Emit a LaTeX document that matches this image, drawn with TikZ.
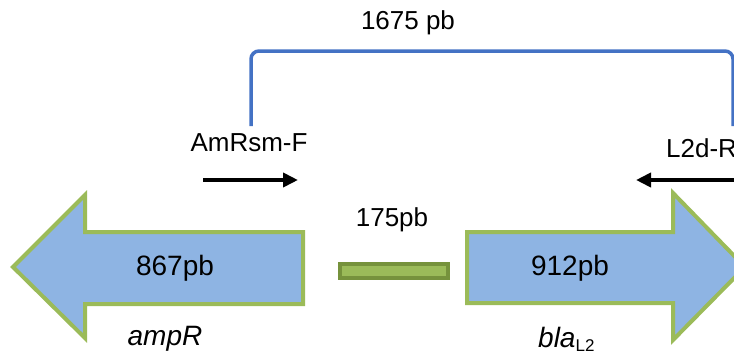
\documentclass[tikz,border=0pt]{standalone}
\usepackage{fontspec}
\setmainfont{Liberation Sans}
\usetikzlibrary{arrows.meta}
\definecolor{geneblue}{HTML}{8EB4E3}
\definecolor{genegreen}{HTML}{9BBB59}
\definecolor{bardark}{HTML}{76923C}
\definecolor{bracketblue}{HTML}{4472C4}
\tikzset{
  gene/.style={fill=geneblue, draw=genegreen, line width=4pt, line join=miter},
  txt/.style={font=\fontsize{26}{30}\selectfont, inner sep=0pt},
  bigtxt/.style={font=\fontsize{28}{32}\selectfont, inner sep=0pt},
  primer/.style={line width=4pt, -{Triangle[length=15pt,width=14pt]}},
  bracket/.style={draw=bracketblue, line width=3.5pt, rounded corners=8pt},
  amplicon/.style={fill=genegreen, draw=bardark, line width=4pt}
}
\begin{document}
\begin{tikzpicture}[x=1pt,y=-1pt]
\useasboundingbox (0,0) rectangle (734,356);

% genes
\draw[gene] (303,232) -- (85,232) -- (85,195) -- (13,267) -- (85,338) -- (85,304) -- (303,304) -- cycle;
\draw[gene] (467,232) -- (673,232) -- (673,193) -- (745,267) -- (673,340) -- (673,303) -- (467,303) -- cycle;
\node (ampR) [bigtxt] at (175,268) {867pb};
\node (blaL2) [bigtxt] at (570,268) {912pb};
\node (ampRname) [bigtxt] at (165,339) {\textit{ampR}};
\node (blaname) [bigtxt, anchor=base west] at (538,347) {\textit{bla}\raisebox{-4pt}{\fontsize{17}{19}\selectfont L2}};

% amplicon interne
\draw[amplicon] (340,264) rectangle (448,278);
\node (short) [txt] at (392,220) {175pb};

% amorces
\node (fwd) [txt] at (249,143) {AmRsm-F};
\node (rev) [txt, anchor=west] at (666,148) {L2d-R};
\coordinate (fwdA) at (203,180);
\coordinate (fwdB) at (298,180);
\coordinate (revA) at (740,180);
\coordinate (revB) at (636,180);
\draw[primer] (fwdA) -- (fwdB);
\draw[primer] (revA) -- (revB);

% produit long
\coordinate (brL) at (251,126);
\coordinate (brR) at (733,126);
\draw[bracket] (brL) -- (251,51) -- (733,51) -- (brR);
\node (long) [txt] at (408,23) {1675 pb};

\end{tikzpicture}
\end{document}
